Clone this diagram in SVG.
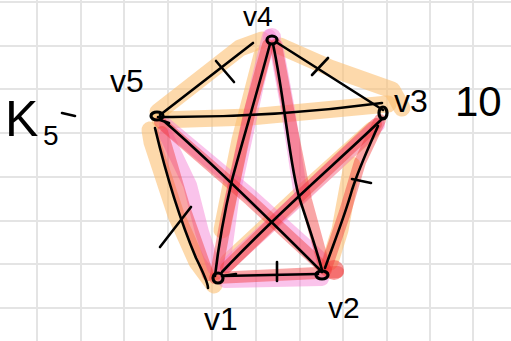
<svg xmlns="http://www.w3.org/2000/svg" width="511" height="341" viewBox="0 0 511 341">
<style>
.grid line{stroke:#e4e4e4;stroke-width:2}
.hl{fill:none;stroke-linecap:round;stroke-linejoin:round}
.or{stroke:#fbbf73;stroke-opacity:.6;stroke-width:17}
.pk{stroke:#f57ad2;stroke-opacity:.45;stroke-width:14}
.rd{stroke:#f23a3a;stroke-opacity:.45;stroke-width:12}
.ed{fill:none;stroke:#000;stroke-width:2.6;stroke-linecap:round;stroke-linejoin:round}
.nd{fill:none;stroke:#000;stroke-width:3.2}
.lb{font-family:"Liberation Sans",Arial,sans-serif;fill:#000}
</style>
<rect width="511" height="341" fill="#fff"/>
<g class="grid">
<line x1="37" y1="0" x2="37" y2="341"/><line x1="81" y1="0" x2="81" y2="341"/><line x1="124" y1="0" x2="124" y2="341"/><line x1="168" y1="0" x2="168" y2="341"/><line x1="212" y1="0" x2="212" y2="341"/><line x1="256" y1="0" x2="256" y2="341"/><line x1="300" y1="0" x2="300" y2="341"/><line x1="343" y1="0" x2="343" y2="341"/><line x1="387" y1="0" x2="387" y2="341"/><line x1="430" y1="0" x2="430" y2="341"/><line x1="473" y1="0" x2="473" y2="341"/>
<line x1="0" y1="2" x2="511" y2="2"/><line x1="0" y1="46" x2="511" y2="46"/><line x1="0" y1="89" x2="511" y2="89"/><line x1="0" y1="133" x2="511" y2="133"/><line x1="0" y1="177" x2="511" y2="177"/><line x1="0" y1="221" x2="511" y2="221"/><line x1="0" y1="264" x2="511" y2="264"/><line x1="0" y1="308" x2="511" y2="308"/>
</g>
<g id="highlights">
<path class="hl or" d="M214,285 L197,262 L176,215 L152,142 L150,130"/>
<path class="hl or" d="M158,112 L240,48 L262,40"/>
<path class="hl or" d="M280,46 L330,68 L392,90 L402,108"/>
<path class="hl or" d="M160,120 L250,117 L388,104"/>
<path class="hl or" d="M228,262 L300,195 L372,130"/>
<path class="hl or" d="M352,165 L340,230 L330,262"/>
<path class="hl or" d="M262,55 L240,140 L222,230"/>
<path class="hl pk" d="M166,135 L190,185 L202,232 L214,268"/>
<path class="hl pk" d="M269,36 L257,85 L232,200 L223,266"/>
<path class="hl pk" d="M226,266 L300,198 L378,125"/>
<path class="hl pk" d="M225,281 L322,279"/>
<path class="hl pk" d="M166,125 L250,195 L320,258"/>
<path class="hl pk" d="M276,45 L288,110 L300,190"/>
<circle cx="272" cy="37" r="9" fill="#f57ad2" fill-opacity=".45"/>
<path class="hl rd" d="M268,45 L250,110 L226,220 L216,274"/>
<path class="hl rd" d="M276,45 L290,120 L306,200 L324,266"/>
<path class="hl rd" d="M160,122 L250,200 L326,270"/>
<path class="hl rd" d="M162,132 L185,210 L208,275"/>
<path class="hl rd" d="M326,268 L345,212 L360,162 L380,120"/>
<path class="hl rd" d="M215,278 L338,272"/>
<path class="hl rd" d="M226,268 L300,196 L376,124"/>
<circle cx="334" cy="270" r="10" fill="#f23a3a" fill-opacity=".5"/>
</g>
<g id="connectors">
<path class="ed" d="M160,115 L253,43"/>
<path class="ed" d="M276,42 L383,110"/>
<path class="ed" d="M158,117 Q270,118 382,103"/>
<path class="ed" d="M155,128 C165,170 180,220 196,258 C203,272 208,283 208,288"/>
<path class="ed" d="M165,122 C220,170 280,230 322,272"/>
<path class="ed" d="M160,120 L169,123"/>
<path class="ed" d="M270,44 C255,100 240,150 232,180 C225,210 218,250 215,276"/>
<path class="ed" d="M273,44 C285,100 290,170 300,200 C310,230 318,255 322,270"/>
<path class="ed" d="M222,272 C280,210 340,160 383,118"/>
<path class="ed" d="M325,268 C335,240 345,215 352,190 C360,165 372,140 378,126"/>
<path class="ed" d="M223,276 L318,274"/>
<path class="ed" d="M222,276 L236,274"/>
<path class="ed" d="M216,61 L234,82"/>
<path class="ed" d="M312,75 L328,58"/>
<path class="ed" d="M352,179 L371,183"/>
<path class="ed" d="M160,247 L191,207"/>
<path class="ed" d="M277,262 L277,281"/>
</g>
<g id="v4"><ellipse class="nd" cx="272" cy="40" rx="5" ry="4"/><text class="lb" x="243" y="26" font-size="28">v4</text></g>
<g id="v5"><ellipse class="nd" cx="157" cy="116" rx="6" ry="4"/><text class="lb" x="110" y="92" font-size="32">v5</text></g>
<g id="v3"><ellipse class="nd" cx="383" cy="113" rx="4" ry="6"/><text class="lb" x="394" y="112" font-size="32">v3</text></g>
<g id="v1"><ellipse class="nd" cx="218" cy="278" rx="5" ry="5"/><text class="lb" x="204" y="330" font-size="32">v1</text></g>
<g id="v2"><ellipse class="nd" cx="322" cy="275" rx="6" ry="4"/><text class="lb" x="328" y="318" font-size="30">v2</text></g>
<g id="label-k5"><text class="lb" x="5" y="136" font-size="50">K</text><text class="lb" x="43" y="145" font-size="28">5</text><line x1="62" y1="113" x2="75" y2="116" stroke="#000" stroke-width="2.6" stroke-linecap="round"/></g>
<g id="label-10"><text class="lb" x="455" y="116" font-size="42">10</text></g>
</svg>
